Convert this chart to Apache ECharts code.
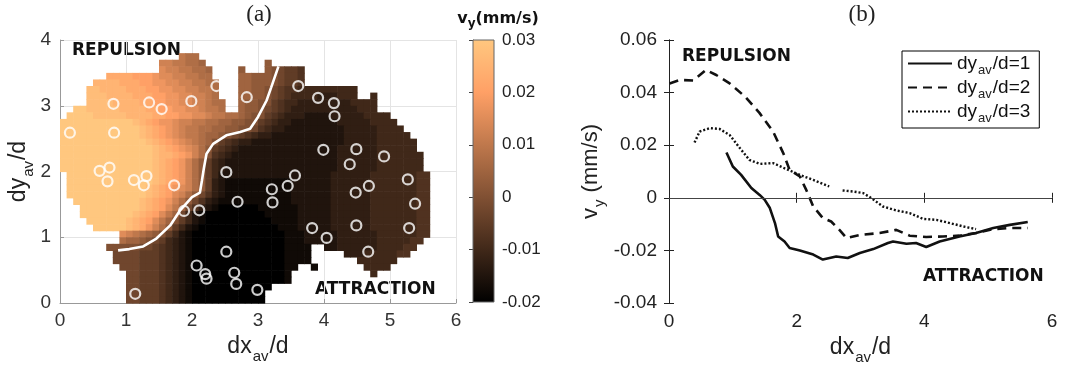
<!DOCTYPE html>
<html><head><meta charset="utf-8">
<script src="https://cdn.jsdelivr.net/npm/echarts@6/dist/echarts.min.js"></script>
<style>html,body{margin:0;padding:0;background:#fff}#c{width:1068px;height:372px}</style>
</head><body><div id="c"></div>
<script>
// ---------- DATA ----------
// Colour level codes for panel (a): a = -0.02 ... u = 0.03 (mm/s)
const LEVEL_KEYS = 'abcdefghijklmnopqrstu';
const LEVEL_VALUES = [-0.02,-0.0175,-0.015,-0.0125,-0.01,-0.0075,-0.005,-0.0025,0,0.0025,0.005,0.0075,0.01,0.0125,0.015,0.0175,0.02,0.0225,0.025,0.0275,0.03];
// vy map, one row per 0.1 of dy_av/d, top row (3.9-4.0) first; run-length coded, '.' = no data
const vyRows = [
  "",
  "",
  ".18 m l2",
  ".15 n2 m2 l2 k .9 j",
  ".15 o n2 m2 l2 k .4 j .3 j i h g2 f",
  ".7 r4 q3 p o2 n2 m2 l2 .4 k2 j3 i h g2 f",
  ".5 s4 r3 q2 p2 o2 n2 m2 l2 .3 k2 j3 i h g2 f",
  ".4 t2 s4 r3 q2 p2 o2 n2 m2 l .3 k2 j2 i h g f2 e9",
  ".4 t3 s4 r3 q2 p2 o2 n2 m l .3 k2 j2 i h g f e4 d3 e3 .2 e",
  ".4 t4 s4 r2 q2 p2 o2 n2 m l2 .2 k j2 i2 g f e2 d8 e4",
  ".2 u2 t5 s4 r2 q2 p2 o2 n m2 l .2 k j2 i h g f e d10 e3",
  ".1 u4 t5 s4 r2 q2 p2 o2 n m2 l2 k j i2 g f e d3 c4 d5 e4",
  "u11 t s r q p2 o n2 m2 l2 k2 j2 i2 g f e d2 c7 d5 e4",
  "u12 t s r q p o n m2 l2 k2 j2 i2 h f e d2 c9 d5 e4",
  "u12 t s r q p o n m2 l k2 j i h g f e d2 c11 d5 e5",
  "u13 t s r q p o n m l k i g f e d2 c14 d5 e6",
  "u14 t s r q p o n l j g f e d c15 d6 e6",
  "u14 t s2 r q p n l i f e d c16 d6 e7",
  "u14 t s r q p n l j g e d c17 d6 e7",
  "u14 t s r q p n l j g e d c17 d6 e7",
  ".1 u13 t s r q p n l j g e c17 d6 e7 f2",
  ".1 u13 t s r q p n l j g d c b10 c6 d6 e7 f2",
  ".1 u12 t s r q p o n l j g d c b10 c6 d6 e7 f2",
  ".1 u12 t s r q o n l j h f d c b10 c6 d6 e7 f2",
  ".2 u10 t s r q p n l j h f d c b11 c6 d6 e7 f2",
  ".3 u9 t s r q o m k h f d c b a6 b6 c5 d6 e7 f2",
  ".3 u8 t s r q o m k h e c b a9 b5 c5 d6 e7 f2",
  ".4 u6 t s r q o m k i g e c b a10 b4 c5 d6 e7 f2",
  ".5 u5 t s r p n l j g e c b a12 b3 c5 d6 e7 f2",
  ".9 o n m l k j i g e c b a14 b3 c5 d6 e6 f2",
  ".9 l k2 j i h g e d c b a14 b3 c5 d6 e5 f2",
  ".7 i5 h2 g f e d c b a14 b4 .2 c2 d6 e4 f2",
  ".8 h4 g3 f e d c b a14 b4 .5 d3 e5 f2",
  ".8 h4 g3 f e d c b a14 b4 .7 e6",
  ".9 h3 g3 f e d c b a14 b2 .2 b .7 e4",
  ".10 h2 g3 f e d c b a14 b .12 e",
  ".10 h2 g3 f e d c b a14 b",
  ".10 h2 g3 f e d c b a12",
  ".10 h2 g3 f e d c b a11",
  ".10 h2 g3 f e d c b a11"
];
// particle positions (white circles)
const circleX = [0.15,0.81,0.82,1.35,1.54,1.99,2.37,2.83,3.61,3.91,4.15,4.16,0.60,0.75,0.72,1.12,1.31,1.27,1.73,2.52,1.88,2.11,2.69,3.21,3.22,3.45,3.56,3.99,4.49,4.39,4.91,4.48,4.68,5.27,5.38,3.82,4.04,4.49,5.29,4.67,2.52,2.07,2.20,2.22,2.64,2.67,2.99,1.14];
const circleY = [2.59,3.03,2.59,3.05,2.95,3.07,3.30,3.13,3.30,3.12,3.04,2.84,2.01,2.06,1.85,1.87,1.93,1.79,1.79,1.99,1.40,1.41,1.54,1.73,1.53,1.78,1.94,2.33,2.34,2.11,2.23,1.68,1.78,1.88,1.51,1.14,0.99,1.18,1.14,0.78,0.78,0.57,0.44,0.37,0.46,0.29,0.20,0.14];
// zero contour (white line)
const contourX = [0.88,1.05,1.26,1.46,1.67,1.82,2.00,2.12,2.15,2.18,2.22,2.32,2.52,2.73,2.88,3.00,3.13,3.20,3.31];
const contourY = [0.80,0.82,0.86,0.98,1.18,1.41,1.61,1.68,1.86,2.05,2.27,2.42,2.55,2.60,2.65,2.83,3.08,3.28,3.60];
// colour bar range
const colorbarRange = [-0.02, 0.03];
// panel (b) profiles
const seriesNames = ['dy_av/d=1','dy_av/d=2','dy_av/d=3'];
const dx1 = [0.90,1.00,1.13,1.29,1.42,1.50,1.58,1.66,1.71,1.81,1.89,2.05,2.26,2.41,2.62,2.80,2.99,3.20,3.43,3.51,3.72,3.87,4.03,4.24,4.55,4.81,5.08,5.34,5.62];
const vy1 = [0.0172,0.0119,0.0087,0.0037,0.0011,-0.0008,-0.0039,-0.0096,-0.0147,-0.0166,-0.0191,-0.0200,-0.0216,-0.0235,-0.0223,-0.0229,-0.0210,-0.0195,-0.0172,-0.0166,-0.0175,-0.0172,-0.0187,-0.0166,-0.0147,-0.0134,-0.0115,-0.0103,-0.0092];
const dx2 = [0.01,0.17,0.38,0.58,0.74,0.95,1.19,1.42,1.63,1.79,1.89,2.05,2.15,2.26,2.41,2.54,2.67,2.78,2.99,3.30,3.56,3.77,4.03,4.29,4.55,4.81,5.08,5.34,5.62];
const vy2 = [0.0435,0.0448,0.0446,0.0486,0.0467,0.0435,0.0385,0.0322,0.0252,0.0170,0.0106,0.0081,0.0030,-0.0033,-0.0077,-0.0090,-0.0122,-0.0153,-0.0141,-0.0134,-0.0122,-0.0144,-0.0149,-0.0147,-0.0144,-0.0134,-0.0119,-0.0115,-0.0115];
const dx3 = [0.40,0.48,0.64,0.79,0.95,1.11,1.26,1.42,1.63,1.84,2.05,2.26,2.51,2.62,2.72,2.88,3.04,3.17,3.35,3.56,3.77,3.98,4.19,4.40,4.61,4.81];
const vy3 = [0.0210,0.0252,0.0265,0.0262,0.0239,0.0189,0.0144,0.0129,0.0132,0.0109,0.0087,0.0068,0.0043,null,0.0028,0.0024,0.0018,-0.0001,-0.0033,-0.0048,-0.0058,-0.0080,-0.0084,-0.0096,-0.0109,-0.0119];

// ---------- BUILD ----------
const CELL = 0.1;
const COPPER = ['#000000','#402819','#805033','#bf784c','#ffa066','#ffc77f'];
function expandRow(code) {
  const out = [];
  code.split(' ').filter(Boolean).forEach(tok => {
    const ch = tok[0];
    const n = tok.length > 1 ? parseInt(tok.slice(1), 10) : 1;
    for (let k = 0; k < n; k++) out.push(ch);
  });
  return out;
}
const heatData = [];
vyRows.forEach((code, r) => {
  const y0 = (vyRows.length - 1 - r) * CELL;
  expandRow(code).forEach((ch, c) => {
    const k = LEVEL_KEYS.indexOf(ch);
    if (k >= 0) heatData.push([c * CELL, y0, LEVEL_VALUES[k]]);
  });
});
const zip = (a, b) => a.map((v, i) => [v, b[i]]);

const FONT = 'Liberation Sans';
const subRich = (size, pad) => ({ s: { fontFamily: FONT, fontSize: size, color: '#222', padding: [pad, 1, 0, 1] } });

function renderCell(params, api) {
  const x = api.value(0), y = api.value(1);
  const a = api.coord([x, y + CELL]);
  const b = api.coord([x + CELL, y]);
  return { type: 'rect', shape: { x: a[0], y: a[1], width: b[0] - a[0] + 0.6, height: b[1] - a[1] + 0.6 },
           style: { fill: api.visual('color') } };
}
function renderBar(params, api) {
  const a = api.coord([0, api.value(2)]);
  const b = api.coord([1, api.value(1)]);
  const stops = COPPER.slice().reverse().map((c, i) => ({ offset: i / (COPPER.length - 1), color: c }));
  return { type: 'rect', shape: { x: a[0], y: a[1], width: b[0] - a[0], height: b[1] - a[1] },
           style: { fill: new echarts.graphic.LinearGradient(0, 0, 0, 1, stops), stroke: '#666', lineWidth: 1 } };
}

const chart = echarts.init(document.getElementById('c'), null, { width: 1068, height: 372 });
const darkAxis = { lineStyle: { color: '#222', width: 1 } };
const option = {
  animation: false,
  backgroundColor: '#ffffff',
  grid: [
    { left: 60, top: 40, width: 396, height: 263 },
    { left: 473, top: 40, width: 21, height: 262 },
    { left: 669, top: 40, width: 383, height: 263 }
  ],
  xAxis: [
    { gridIndex: 0, type: 'value', min: 0, max: 6, interval: 1,
      axisLine: { show: true, lineStyle: { color: '#999' } },
      axisTick: { show: true, inside: true, length: 4, lineStyle: { color: '#999' } },
      splitLine: { show: true, lineStyle: { color: '#e4e4e4' } },
      axisLabel: { fontFamily: FONT, fontSize: 19, color: '#333', margin: 8 },
      name: 'dx{s|av}/d', nameLocation: 'middle', nameGap: 22,
      nameTextStyle: { fontFamily: FONT, fontSize: 23, color: '#222', rich: subRich(15, 20) } },
    { gridIndex: 1, type: 'value', min: 0, max: 1, show: false },
    { gridIndex: 2, type: 'value', min: 0, max: 6, interval: 2,
      axisLine: darkAxis, axisTick: { inside: true, length: 5, lineStyle: { color: '#222' } },
      splitLine: { show: false },
      axisLabel: { fontFamily: FONT, fontSize: 19, color: '#222', margin: 9 },
      name: 'dx{s|av}/d', nameLocation: 'middle', nameGap: 26,
      nameTextStyle: { fontFamily: FONT, fontSize: 23, color: '#222', rich: subRich(15, 20) } },
    { gridIndex: 2, type: 'value', min: 0, max: 6, interval: 2, position: 'top',
      axisLine: darkAxis, axisTick: { inside: true, length: 5, lineStyle: { color: '#222' } },
      axisLabel: { show: false }, splitLine: { show: false } }
  ],
  yAxis: [
    { gridIndex: 0, type: 'value', min: 0, max: 4, interval: 1,
      axisLine: { show: true, lineStyle: { color: '#999' } },
      axisTick: { show: true, inside: true, length: 4, lineStyle: { color: '#999' } },
      splitLine: { show: true, lineStyle: { color: '#e4e4e4' } },
      axisLabel: { fontFamily: FONT, fontSize: 19, color: '#333', margin: 9 },
      name: 'dy{s|av}/d', nameLocation: 'middle', nameRotate: 90, nameGap: 20,
      nameTextStyle: { fontFamily: FONT, fontSize: 23, color: '#222', rich: subRich(15, 20) } },
    { gridIndex: 1, type: 'value', min: colorbarRange[0], max: colorbarRange[1], interval: 0.01, position: 'right',
      axisLine: { show: true, lineStyle: { color: '#666' } },
      axisTick: { show: true, inside: true, length: 4, lineStyle: { color: '#444' } },
      splitLine: { show: false },
      axisLabel: { fontFamily: FONT, fontSize: 17, color: '#222', margin: 8 } },
    { gridIndex: 2, type: 'value', min: -0.04, max: 0.06, interval: 0.02,
      axisLine: darkAxis, axisTick: { inside: true, length: 5, lineStyle: { color: '#222' } },
      splitLine: { show: false },
      axisLabel: { fontFamily: FONT, fontSize: 19, color: '#222', margin: 12 },
      name: 'v{s|y} (mm/s)', nameLocation: 'middle', nameRotate: 90, nameGap: 62,
      nameTextStyle: { fontFamily: FONT, fontSize: 22, color: '#222', rich: subRich(15, 18) } },
    { gridIndex: 2, type: 'value', min: -0.04, max: 0.06, interval: 0.02, position: 'right',
      axisLine: darkAxis, axisTick: { inside: true, length: 5, lineStyle: { color: '#222' } },
      axisLabel: { show: false }, splitLine: { show: false } }
  ],
  visualMap: { type: 'continuous', show: false, min: colorbarRange[0], max: colorbarRange[1],
               dimension: 2, seriesIndex: 0, inRange: { color: COPPER } },
  legend: {
    left: 902, top: 51, orient: 'vertical', itemWidth: 44, itemHeight: 14, itemGap: 1,
    padding: [3, 9, 3, 5], borderColor: '#000', borderWidth: 1, backgroundColor: '#fff',
    data: seriesNames,
    itemStyle: { color: 'rgba(0,0,0,0)', borderWidth: 0, opacity: 0 },
    formatter: n => n.replace('_av', '{s|av}'),
    textStyle: { fontFamily: FONT, fontSize: 19, color: '#111', rich: subRich(13, 14) }
  },
  series: [
    { type: 'custom', name: 'vy map', xAxisIndex: 0, yAxisIndex: 0, renderItem: renderCell,
      dimensions: ['x', 'y', 'v'], encode: { x: 0, y: 1 }, data: heatData, z: 1, silent: true },
    { type: 'line', name: 'zero contour', xAxisIndex: 0, yAxisIndex: 0, data: zip(contourX, contourY),
      symbol: 'none', lineStyle: { color: '#ffffff', width: 2.6 }, z: 4, silent: true },
    { type: 'scatter', name: 'particles', xAxisIndex: 0, yAxisIndex: 0, data: zip(circleX, circleY),
      symbol: 'circle', symbolSize: 10, itemStyle: { color: 'rgba(0,0,0,0)', borderColor: '#ffffff', borderWidth: 2.2 }, z: 5, silent: true },
    { type: 'custom', name: 'colorbar', xAxisIndex: 1, yAxisIndex: 1, renderItem: renderBar,
      encode: { x: 0, y: [1, 2] }, data: [[0, colorbarRange[0], colorbarRange[1]]], silent: true },
    { type: 'line', name: seriesNames[0], xAxisIndex: 2, yAxisIndex: 2, data: zip(dx1, vy1),
      symbol: 'none', lineStyle: { color: '#111', width: 2.6, type: 'solid' }, itemStyle: { color: '#111' },
      markLine: { silent: true, symbol: ['none', 'none'], label: { show: false },
                  lineStyle: { color: '#444', width: 1, type: 'solid' }, data: [{ yAxis: 0 }] } },
    { type: 'line', name: seriesNames[1], xAxisIndex: 2, yAxisIndex: 2, data: zip(dx2, vy2),
      symbol: 'none', lineStyle: { color: '#111', width: 2.6, type: [9, 6] }, itemStyle: { color: '#111' } },
    { type: 'line', name: seriesNames[2], xAxisIndex: 2, yAxisIndex: 2, data: zip(dx3, vy3), connectNulls: false,
      symbol: 'none', lineStyle: { color: '#111', width: 2.4, type: [2, 2] }, itemStyle: { color: '#111' } }
  ],
  graphic: [
    { type: 'text', x: 259, y: 15, style: { text: '(a)', font: '23px "Liberation Serif"', fill: '#222', textAlign: 'center', textVerticalAlign: 'middle' } },
    { type: 'text', x: 862, y: 15, style: { text: '(b)', font: '23px "Liberation Serif"', fill: '#222', textAlign: 'center', textVerticalAlign: 'middle' } },
    { type: 'text', x: 498, y: 19, style: { text: 'v{s|y}(mm/s)', font: 'bold 16px "DejaVu Sans"', fill: '#111', textAlign: 'center', textVerticalAlign: 'middle',
        rich: { s: { font: 'bold 12px "DejaVu Sans"', fill: '#111', padding: [10, 0, 0, 0] } } } },
    { type: 'text', x: 72, y: 42, style: { text: 'REPULSION', font: 'bold 17px "DejaVu Sans"', fill: '#111' } },
    { type: 'text', x: 315, y: 281, style: { text: 'ATTRACTION', font: 'bold 17px "DejaVu Sans"', fill: '#111' } },
    { type: 'text', x: 682, y: 48, style: { text: 'REPULSION', font: 'bold 17px "DejaVu Sans"', fill: '#111' } },
    { type: 'text', x: 923, y: 268, style: { text: 'ATTRACTION', font: 'bold 17px "DejaVu Sans"', fill: '#111' } }
  ]
};
chart.setOption(option);
</script></body></html>
